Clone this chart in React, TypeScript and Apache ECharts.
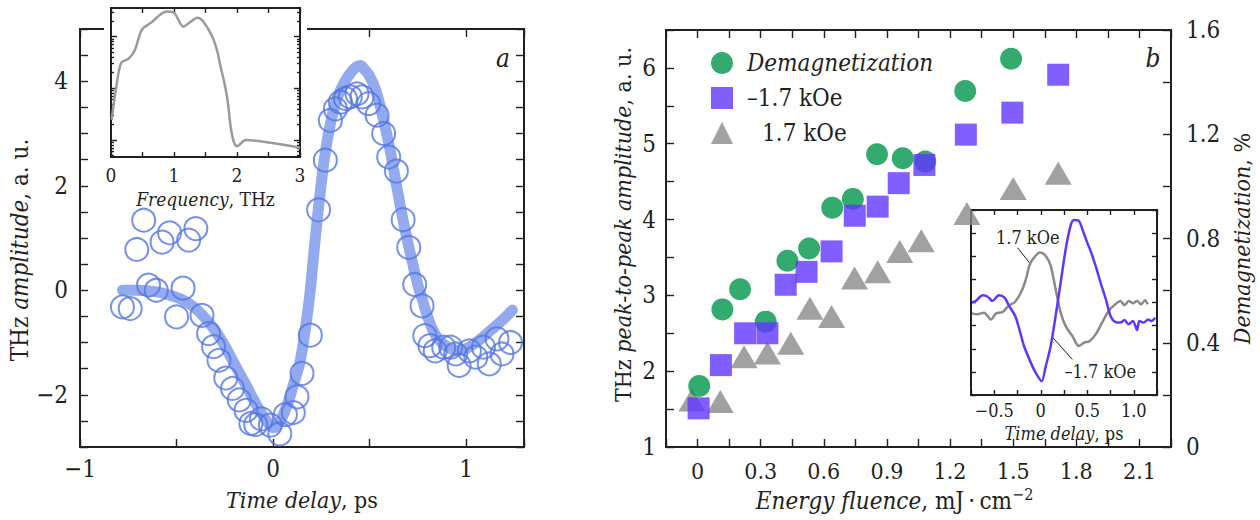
import { useEffect, useRef } from 'react';
import * as echarts from 'echarts';

// ---------- Panel a: THz waveform ----------
const delayPs = [
  -0.78, -0.74, -0.706, -0.67, -0.645, -0.605, -0.575, -0.536, -0.5, -0.466, -0.437, -0.4,
  -0.368, -0.334, -0.308, -0.28, -0.245, -0.21, -0.175, -0.14, -0.115, -0.09, -0.06, -0.014,
  0.035, 0.064, 0.105, 0.124, 0.15, 0.193, 0.236, 0.271, 0.297, 0.323, 0.349, 0.375, 0.4,
  0.435, 0.461, 0.495, 0.539, 0.573, 0.599, 0.639, 0.674, 0.703, 0.734, 0.772, 0.786, 0.813,
  0.84, 0.884, 0.92, 0.946, 0.964, 1.017, 1.05, 1.09, 1.12, 1.16, 1.186, 1.23,
];
const amplitude = [
  -0.32, -0.35, 0.78, 1.34, 0.1, 0.0, 0.92, 1.1, -0.51, 0.04, 0.96, 1.18,
  -0.48, -0.83, -1.08, -1.34, -1.68, -1.88, -2.1, -2.3, -2.55, -2.57, -2.46, -2.58,
  -2.75, -2.38, -2.34, -2.04, -1.59, -0.86, 1.54, 2.49, 3.25, 3.47, 3.6, 3.67, 3.7,
  3.76, 3.7, 3.57, 3.35, 3.0, 2.55, 2.28, 1.35, 0.82, 0.11, -0.3, -0.87, -1.06,
  -1.16, -1.09, -1.09, -1.22, -1.44, -1.16, -1.28, -1.09, -1.41, -0.93, -1.22, -1.0,
];
const fitDelayPs = [
  -0.78, -0.7, -0.6, -0.54, -0.47, -0.41, -0.36, -0.31, -0.26, -0.22, -0.18, -0.135, -0.1,
  -0.066, -0.03, 0.0, 0.03, 0.073, 0.11, 0.138, 0.165, 0.19, 0.215, 0.236, 0.26, 0.28, 0.31,
  0.34, 0.37, 0.4, 0.43, 0.452, 0.475, 0.5, 0.53, 0.56, 0.6, 0.63, 0.66, 0.69, 0.724, 0.75,
  0.777, 0.8, 0.83, 0.86, 0.9, 0.94, 0.97, 1.0, 1.04, 1.08, 1.13, 1.18, 1.24,
];
const fitAmplitude = [
  0.0, 0.0, -0.03, -0.09, -0.18, -0.32, -0.5, -0.72, -1.0, -1.27, -1.55, -1.85, -2.1,
  -2.32, -2.52, -2.63, -2.55, -2.2, -1.75, -1.4, -0.8, -0.1, 0.85, 1.6, 2.35, 2.85, 3.4,
  3.75, 3.98, 4.15, 4.27, 4.3, 4.22, 4.1, 3.85, 3.45, 2.8, 2.2, 1.6, 1.05, 0.5, 0.1,
  -0.22, -0.5, -0.78, -0.95, -1.08, -1.14, -1.15, -1.12, -1.03, -0.92, -0.76, -0.6, -0.38,
];

// Panel a inset: spectrum, log10 of spectral amplitude
const freqTHz = [
  0.01, 0.07, 0.16, 0.28, 0.38, 0.49, 0.65, 0.78, 0.89, 1.0, 1.15, 1.26, 1.37, 1.47, 1.61,
  1.69, 1.74, 1.79, 1.85, 1.9, 1.95, 2.0, 2.14, 2.56, 3.0,
];
const spectrumLog = [
  0.39, 0.91, 1.49, 1.57, 1.74, 2.13, 2.28, 2.42, 2.48, 2.46, 2.19, 2.28, 2.36, 2.28, 1.99,
  1.7, 1.41, 1.16, 0.77, 0.25, -0.04, -0.12, 0.0, -0.06, -0.15,
];

// ---------- Panel b: fluence dependence ----------
const fluenceDemag = [0.008, 0.118, 0.202, 0.324, 0.427, 0.53, 0.64, 0.738, 0.853, 0.975, 1.082, 1.272, 1.49];
const demagPercent = [0.234, 0.528, 0.605, 0.481, 0.715, 0.762, 0.918, 0.952, 1.123, 1.108, 1.095, 1.366, 1.49];
const fluenceNeg = [0.005, 0.111, 0.226, 0.332, 0.419, 0.518, 0.637, 0.747, 0.856, 0.956, 1.078, 1.275, 1.496, 1.714];
const peakNeg = [1.51, 2.08, 2.5, 2.5, 3.14, 3.31, 3.58, 4.05, 4.17, 4.48, 4.72, 5.12, 5.41, 5.91];
const fluencePos = [-0.027, 0.108, 0.221, 0.332, 0.443, 0.534, 0.637, 0.746, 0.856, 0.961, 1.063, 1.28, 1.5, 1.714];
const peakPos = [1.62, 1.6, 2.19, 2.24, 2.37, 2.83, 2.72, 3.23, 3.31, 3.58, 3.72, 4.08, 4.41, 4.61];

// Panel b inset: waveforms at -1.7 kOe and 1.7 kOe
const insetDelayNeg = [
  -0.74, -0.7, -0.625, -0.57, -0.52, -0.45, -0.39, -0.34, -0.275, -0.23, -0.18, -0.107, -0.054,
  0.01, 0.054, 0.107, 0.16, 0.214, 0.268, 0.32, 0.357, 0.41, 0.447, 0.5, 0.536, 0.59, 0.643,
  0.7, 0.75, 0.8, 0.857, 0.9, 0.946, 0.99, 1.036, 1.06, 1.107, 1.154, 1.19, 1.23,
];
const insetNeg = [
  0.0, 0.06, 0.31, 0.25, 0.06, 0.31, 0.21, -0.15, -0.58, -1.16, -1.88, -2.6, -3.04,
  -3.4, -2.75, -1.88, -0.58, 0.86, 2.3, 3.31, 3.57, 3.53, 3.17, 2.59, 2.23, 1.58, 0.86,
  0.14, -0.58, -0.84, -0.87, -0.76, -0.94, -0.8, -1.19, -0.8, -0.87, -0.73, -0.8, -0.66,
];
const insetDelayPos = [
  -0.74, -0.68, -0.61, -0.536, -0.48, -0.41, -0.34, -0.286, -0.214, -0.16, -0.118, -0.072,
  -0.01, 0.054, 0.107, 0.16, 0.214, 0.268, 0.34, 0.41, 0.464, 0.525, 0.59, 0.66, 0.73, 0.8,
  0.857, 0.9, 0.946, 0.99, 1.036, 1.08, 1.12, 1.15,
];
const insetPos = [
  -0.47, -0.51, -0.44, -0.73, -0.47, -0.41, -0.12, -0.01, 0.42, 1.0, 1.65, 1.94,
  2.16, 2.01, 1.58, 0.57, -0.44, -1.02, -1.45, -1.88, -1.74, -1.67, -1.38, -0.87, -0.37, -0.08,
  0.06, -0.12, 0.06, -0.03, 0.06, -0.08, 0.1, -0.08,
];

const FONT = '"DejaVu Serif Condensed", "DejaVu Serif"';
const INK = '#231f20';
const BLUE_FIT = '#93aaef';
const BLUE_DOT = '#5476e4';
const GREEN = '#00964a';
const PURPLE = '#6236ff';
const GRAY = '#8a8a8a';
const SPEC_GRAY = '#9a9a9a';

const MINUS = '\u2212';
const signed = (v: number, s: string) => (v < 0 ? MINUS + s.replace('-', '') : s);
const near = (a: number, b: number) => Math.abs(a - b) < 1e-6;
const pairs = (xs: number[], ys: number[]) => xs.map((x, i) => [x, ys[i]]);

function tickStyle(len: number) {
  return { show: true, inside: true, length: len, lineStyle: { color: INK, width: 1.4 } };
}
function baseAxis(extra: any) {
  return { type: 'value', axisLine: { show: false, onZero: false }, splitLine: { show: false }, ...extra };
}

// log-decade tick positions for the spectrum inset
const logMajor: number[] = [];
const logMinor: number[] = [];
for (let n = -1; n <= 2; n++) {
  if (n >= -0.33 && n <= 2.55) logMajor.push(n);
  for (let k = 2; k <= 9; k++) {
    const v = n + Math.log10(k);
    if (v >= -0.33 && v <= 2.55) logMinor.push(v);
  }
}

function buildOption(): any {
  const lb = { fontFamily: FONT, color: INK };
  const rich = (size: number) => ({
    i: { fontFamily: FONT, fontStyle: 'italic', fontSize: size, color: INK },
    s: { fontFamily: FONT, fontSize: Math.round(size * 0.68), color: INK, padding: [0, 0, 13, 0] },
  });

  const xAxis = [
    // panel a
    baseAxis({
      gridIndex: 0, position: 'bottom', min: -1, max: 1.3, interval: 0.5,
      axisTick: tickStyle(8),
      axisLabel: { ...lb, fontSize: 24, margin: 10,
        formatter: (v: number) => (near(v, Math.round(v)) ? signed(v, String(Math.round(v))) : '') },
      name: '{i|Time delay}, ps', nameLocation: 'middle', nameGap: 41,
      nameTextStyle: { ...lb, fontSize: 23, rich: rich(23) },
    }),
    baseAxis({ gridIndex: 0, position: 'top', min: -1, max: 1.3, interval: 0.5, axisTick: tickStyle(8), axisLabel: { show: false } }),
    // spectrum inset
    baseAxis({
      gridIndex: 1, position: 'bottom', min: 0, max: 3, interval: 0.5, z: 4,
      axisTick: tickStyle(5),
      axisLabel: { ...lb, fontSize: 19, margin: 8,
        formatter: (v: number) => (near(v, Math.round(v)) ? String(Math.round(v)) : '') },
      name: '{i|Frequency}, THz', nameLocation: 'middle', nameGap: 32,
      nameTextStyle: { ...lb, fontSize: 19, rich: rich(19) },
    }),
    baseAxis({ gridIndex: 1, position: 'top', min: 0, max: 3, interval: 0.5, z: 4, axisTick: tickStyle(5), axisLabel: { show: false } }),
    // panel b
    baseAxis({
      gridIndex: 2, position: 'bottom', min: -0.15, max: 2.25, interval: 0.15,
      axisTick: tickStyle(8),
      axisLabel: { ...lb, fontSize: 23, margin: 12,
        formatter: (v: number) => {
          const k = Math.round(v / 0.15);
          if (!near(v, k * 0.15) || k < 0 || k % 2 !== 0) return '';
          return k === 0 ? '0' : (k * 0.15).toFixed(1);
        } },
      name: '{i|Energy fluence}, mJ\u2009\u00b7\u2009cm{s|' + MINUS + '2}',
      nameLocation: 'middle', nameGap: 38,
      nameTextStyle: { ...lb, fontSize: 24, padding: [0, 48, 0, 0], rich: rich(24) },
    }),
    baseAxis({ gridIndex: 2, position: 'top', min: -0.15, max: 2.25, interval: 0.15, axisTick: tickStyle(8), axisLabel: { show: false } }),
    // panel b inset
    baseAxis({
      gridIndex: 3, position: 'bottom', min: -0.75, max: 1.25, interval: 0.25, z: 4,
      axisTick: tickStyle(5),
      axisLabel: { ...lb, fontSize: 18, margin: 6,
        formatter: (v: number) => {
          const k = Math.round(v / 0.25);
          if (!near(v, k * 0.25) || k % 2 !== 0) return '';
          if (k === 0) return '0';
          return signed(v, Math.abs(v).toFixed(1));
        } },
      name: '{i|Time delay}, ps', nameLocation: 'middle', nameGap: 29,
      nameTextStyle: { ...lb, fontSize: 18, rich: rich(18) },
    }),
    baseAxis({ gridIndex: 3, position: 'top', min: -0.75, max: 1.25, interval: 0.25, z: 4, axisTick: tickStyle(5), axisLabel: { show: false } }),
  ];

  const yAxis = [
    // panel a
    baseAxis({
      gridIndex: 0, position: 'left', min: -3, max: 5, interval: 0.5,
      axisTick: tickStyle(8),
      axisLabel: { ...lb, fontSize: 24, margin: 12,
        formatter: (v: number) => { const r = Math.round(v); return near(v, r) && r % 2 === 0 ? signed(r, String(r)) : ''; } },
      name: 'THz {i|amplitude}, a. u.', nameLocation: 'middle', nameGap: 45,
      nameTextStyle: { ...lb, fontSize: 24, padding: [0, 24, 0, 0], rich: rich(24) },
    }),
    baseAxis({ gridIndex: 0, position: 'right', min: -3, max: 5, interval: 0.5, axisTick: tickStyle(8), axisLabel: { show: false } }),
    // spectrum inset, log-style ticks on both sides
    baseAxis({ gridIndex: 1, position: 'left', min: -0.33, max: 2.55, z: 4, axisTick: { ...tickStyle(6), customValues: logMajor }, axisLabel: { show: false } }),
    baseAxis({ gridIndex: 1, position: 'left', min: -0.33, max: 2.55, z: 4, axisTick: { ...tickStyle(3), customValues: logMinor }, axisLabel: { show: false } }),
    baseAxis({ gridIndex: 1, position: 'right', min: -0.33, max: 2.55, z: 4, axisTick: { ...tickStyle(6), customValues: logMajor }, axisLabel: { show: false } }),
    baseAxis({ gridIndex: 1, position: 'right', min: -0.33, max: 2.55, z: 4, axisTick: { ...tickStyle(3), customValues: logMinor }, axisLabel: { show: false } }),
    // panel b, peak-to-peak amplitude
    baseAxis({
      gridIndex: 2, position: 'left', min: 1, max: 6.5, interval: 0.5,
      axisTick: tickStyle(8),
      axisLabel: { ...lb, fontSize: 24, margin: 10,
        formatter: (v: number) => (near(v, Math.round(v)) ? String(Math.round(v)) : '') },
      name: 'THz {i|peak-to-peak amplitude}, a. u.', nameLocation: 'middle', nameGap: 32,
      nameTextStyle: { ...lb, fontSize: 23, padding: [0, 0, 0, 28], rich: rich(23) },
    }),
    // panel b, demagnetization
    baseAxis({
      gridIndex: 2, position: 'right', min: 0, max: 1.6, interval: 0.2,
      axisTick: tickStyle(8),
      axisLabel: { ...lb, fontSize: 24, margin: 15,
        formatter: (v: number) => {
          const k = Math.round(v / 0.2);
          if (!near(v, k * 0.2) || k % 2 !== 0) return '';
          return k === 0 ? '0' : (k * 0.2).toFixed(1);
        } },
      name: '{i|Demagnetization}, %', nameLocation: 'middle', nameGap: 59,
      nameTextStyle: { ...lb, fontSize: 23, rich: rich(23) },
    }),
    // panel b inset
    baseAxis({ gridIndex: 3, position: 'left', min: -4, max: 4, interval: 1, z: 4, axisTick: tickStyle(5), axisLabel: { show: false } }),
    baseAxis({ gridIndex: 3, position: 'right', min: -4, max: 4, interval: 1, z: 4, axisTick: tickStyle(5), axisLabel: { show: false } }),
  ];

  const frame = { show: true, borderColor: INK, borderWidth: 2, backgroundColor: 'rgba(0,0,0,0)' };

  return {
    animation: false,
    backgroundColor: '#ffffff',
    grid: [
      { ...frame, left: 80, top: 29, width: 444, height: 418 },
      { ...frame, left: 111, top: 8, width: 189, height: 149, backgroundColor: '#ffffff', z: 3 },
      { ...frame, left: 666, top: 30, width: 505, height: 417 },
      { ...frame, left: 971, top: 210, width: 186, height: 185, backgroundColor: '#ffffff', z: 3 },
    ],
    xAxis, yAxis,
    legend: {
      orient: 'vertical', left: 706, top: 46, itemWidth: 22, itemHeight: 22, itemGap: 11, selectedMode: false,
      data: [
        { name: 'Demagnetization', icon: 'circle' },
        { name: '\u20131.7 kOe', icon: 'rect' },
        { name: '1.7 kOe', icon: 'triangle' },
      ],
      formatter: (n: string) =>
        n === 'Demagnetization' ? '{i|Demagnetization}' : n === '1.7 kOe' ? '\u2002\u20091.7 kOe' : n,
      textStyle: {
        fontFamily: FONT, fontSize: 24, color: INK, lineHeight: 23, padding: [0, 0, 0, 9],
        rich: { i: { fontFamily: FONT, fontStyle: 'italic', fontSize: 24, color: INK } },
      },
    },
    graphic: [
      // clears the panel-a frame behind the spectrum inset
      { type: 'rect', z: 1, shape: { x: 104, y: 20, width: 203, height: 18 }, style: { fill: '#ffffff' } },
      { type: 'text', z: 6, x: 503, y: 58,
        style: { text: 'a', fontFamily: FONT, fontStyle: 'italic', fontSize: 26, fill: INK, align: 'center', verticalAlign: 'middle' } },
      { type: 'text', z: 6, x: 1153, y: 58,
        style: { text: 'b', fontFamily: FONT, fontStyle: 'italic', fontSize: 26, fill: INK, align: 'center', verticalAlign: 'middle' } },
    ],
    series: [
      { name: 'fit', type: 'line', xAxisIndex: 0, yAxisIndex: 0, smooth: 0.4, showSymbol: false,
        data: pairs(fitDelayPs, fitAmplitude), lineStyle: { color: BLUE_FIT, width: 11, cap: 'round', join: 'round' }, z: 2 },
      { name: 'waveform', type: 'scatter', xAxisIndex: 0, yAxisIndex: 0, symbol: 'circle', symbolSize: 23,
        data: pairs(delayPs, amplitude), itemStyle: { color: 'rgba(255,255,255,0)', borderColor: BLUE_DOT, borderWidth: 2 }, z: 3 },
      { name: 'spectrum', type: 'line', xAxisIndex: 2, yAxisIndex: 2, smooth: 0.3, showSymbol: false,
        data: pairs(freqTHz, spectrumLog), lineStyle: { color: SPEC_GRAY, width: 2.5 }, z: 5 },
      { name: '1.7 kOe', type: 'scatter', xAxisIndex: 4, yAxisIndex: 6, symbol: 'triangle', symbolSize: [27, 23],
        data: pairs(fluencePos, peakPos), itemStyle: { color: GRAY }, z: 6 },
      { name: 'Demagnetization', type: 'scatter', xAxisIndex: 4, yAxisIndex: 7, symbol: 'circle', symbolSize: 22,
        data: pairs(fluenceDemag, demagPercent), itemStyle: { color: GREEN }, z: 7 },
      { name: '\u20131.7 kOe', type: 'scatter', xAxisIndex: 4, yAxisIndex: 6, symbol: 'rect', symbolSize: 22,
        data: pairs(fluenceNeg, peakNeg), itemStyle: { color: PURPLE }, z: 8 },
      { name: 'inset 1.7 kOe', type: 'line', xAxisIndex: 6, yAxisIndex: 8, smooth: 0.3, showSymbol: false,
        data: pairs(insetDelayPos, insetPos), lineStyle: { color: GRAY, width: 2.5 }, z: 5,
        markLine: { silent: true, symbol: ['none', 'none'], label: { show: false },
          lineStyle: { color: INK, width: 1, type: 'solid' },
          data: [[{ coord: [-0.25, 2.37] }, { coord: [-0.107, 1.65] }]] },
        markPoint: { silent: true, symbol: 'circle', symbolSize: 1, itemStyle: { color: 'rgba(0,0,0,0)' },
          label: { show: true, position: 'inside', formatter: '1.7 kOe', fontFamily: FONT, fontSize: 18, color: INK },
          data: [{ coord: [-0.14, 2.8] }] } },
      { name: 'inset \u20131.7 kOe', type: 'line', xAxisIndex: 6, yAxisIndex: 8, smooth: 0.3, showSymbol: false,
        data: pairs(insetDelayNeg, insetNeg), lineStyle: { color: PURPLE, width: 2.5 }, z: 5,
        markLine: { silent: true, symbol: ['none', 'none'], label: { show: false },
          lineStyle: { color: INK, width: 1, type: 'solid' },
          data: [[{ coord: [0.13, -1.52] }, { coord: [0.34, -2.46] }]] },
        markPoint: { silent: true, symbol: 'circle', symbolSize: 1, itemStyle: { color: 'rgba(0,0,0,0)' },
          label: { show: true, position: 'inside', formatter: '\u20131.7 kOe', fontFamily: FONT, fontSize: 18, color: INK },
          data: [{ coord: [0.64, -3.0] }] } },
    ],
  };
}

export default function App() {
  const ref = useRef<HTMLDivElement>(null);
  useEffect(() => {
    if (!ref.current) return;
    const chart = echarts.init(ref.current, null, { renderer: 'svg' });
    chart.setOption(buildOption());
    return () => chart.dispose();
  }, []);
  return <div ref={ref} style={{ position: 'fixed', left: 0, top: 0, width: 1260, height: 520, background: '#ffffff' }} />;
}
